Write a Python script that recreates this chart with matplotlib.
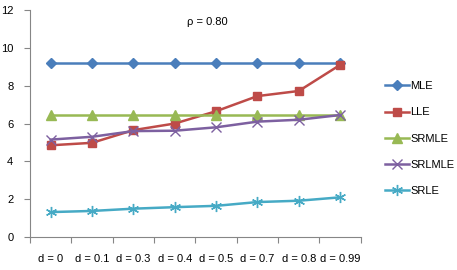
import numpy as np
import matplotlib.pyplot as plt

plt.rcParams['font.family'] = ['Liberation Sans', 'DejaVu Sans']

categories = ['d = 0', 'd = 0.1', 'd = 0.3', 'd = 0.4', 'd = 0.5', 'd = 0.7', 'd = 0.8', 'd = 0.99']
mle = [9.2, 9.2, 9.2, 9.2, 9.2, 9.2, 9.2, 9.2]
lle = [4.85, 4.98, 5.65, 6.0, 6.65, 7.45, 7.72, 9.1]
srmle = [6.45, 6.45, 6.45, 6.45, 6.45, 6.45, 6.45, 6.45]
srlmle = [5.15, 5.3, 5.6, 5.62, 5.8, 6.1, 6.2, 6.45]
srle = [1.32, 1.38, 1.5, 1.58, 1.65, 1.85, 1.92, 2.1]

fig = plt.figure(figsize=(4.57, 2.70), dpi=100)
ax = fig.add_axes([0.0656, 0.122, 0.724, 0.841])

x = np.arange(len(categories))
ax.plot(x, mle, color='#4A7EBB', lw=1.8, marker='D', ms=5, label='MLE')
ax.plot(x, lle, color='#BE4B48', lw=1.8, marker='s', ms=6, label='LLE')
ax.plot(x, srmle, color='#98B954', lw=1.8, marker='^', ms=7, label='SRMLE')
ax.plot(x, srlmle, color='#7D60A0', lw=1.8, marker='x', ms=7, mew=1.0, label='SRLMLE')
ax.plot(x, srle, color='#46AAC5', lw=1.8, marker=(6, 2, 0), ms=8, mew=1.0, label='SRLE')

ax.set_xlim(-0.5, len(categories) - 0.5)
ax.set_ylim(0, 12)
ax.set_yticks([0, 2, 4, 6, 8, 10, 12])
ax.set_xticks(np.arange(-0.5, len(categories)), labels=[])
ax.set_xticks(x, labels=categories, minor=True)
ax.tick_params(axis='x', which='minor', length=0, pad=12, labelsize=8)
ax.tick_params(axis='x', which='major', length=4, color='#868686', direction='out')
ax.tick_params(axis='y', length=4, color='#868686', labelsize=8, pad=8)

for s in ['top', 'right']:
    ax.spines[s].set_visible(False)
for s in ['left', 'bottom']:
    ax.spines[s].set_color('#868686')

ax.text(0.535, 0.945, 'ρ = 0.80', transform=ax.transAxes, fontsize=8, ha='center', va='center')

fig.legend(loc='center left', bbox_to_anchor=(0.832, 0.487), frameon=False, fontsize=8,
           handlelength=2.2, handletextpad=0.1, labelspacing=1.45, borderaxespad=0)

fig.savefig('out.png', dpi=100)
